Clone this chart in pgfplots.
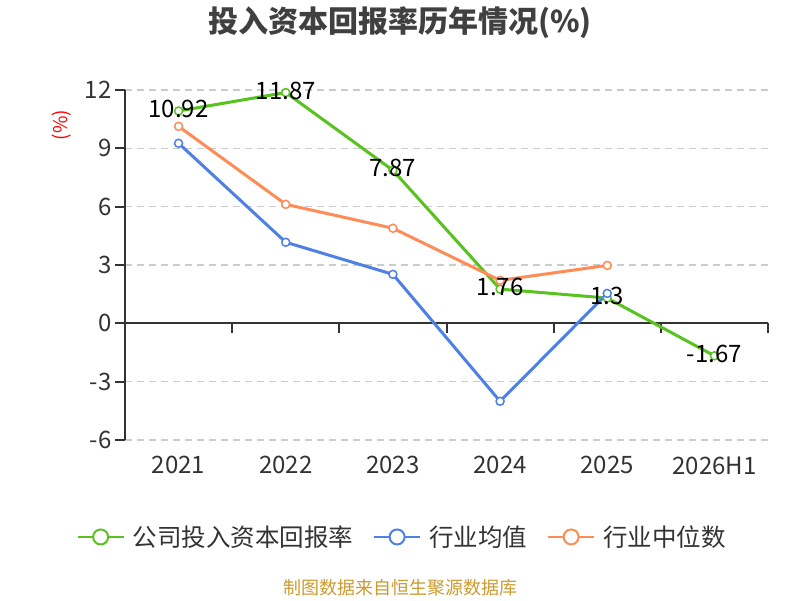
\documentclass[border=0pt]{standalone}
\usepackage{pgfplots}
\pgfplotsset{compat=1.18}
\usepackage{fontspec}
\setmainfont{Noto Sans CJK SC}
\definecolor{cg}{HTML}{58C21E}
\definecolor{cb}{HTML}{4E80E5}
\definecolor{co}{HTML}{FF8C57}
\definecolor{axc}{HTML}{333333}
\definecolor{ttl}{HTML}{404040}
\definecolor{gridc}{HTML}{CCCCCC}
\definecolor{src}{HTML}{CC9A2E}
\begin{document}
\begin{tikzpicture}[x=1pt,y=1pt]
\path[use as bounding box] (0,0) rectangle (800,600);
\node[font=\fontsize{30}{34}\selectfont\bfseries, text=ttl] at (400,577) {投入资本回报率历年情况(\%)};
\node[rotate=90, text=red, font=\fontsize{19}{22}\selectfont] at (62,475) {(\%)};
\node[text=src, font=\fontsize{18}{22}\selectfont] at (400,12) {制图数据来自恒生聚源数据库};
\begin{axis}[
  at={(125pt,160pt)}, anchor=south west,
  scale only axis, width=643pt, height=350pt,
  xmin=-0.5, xmax=5.5, ymin=-6, ymax=12,
  ytick={-6,-3,0,3,6,9,12},
  xtick={0,1,2,3,4,5},
  xticklabels={2021,2022,2023,2024,2025,2026H1},
  axis y line*=left, axis x line*=bottom,
  x axis line style={draw=none},
  y axis line style={axc, line width=2pt, -},
  major x tick style={draw=none},
  major y tick style={axc, line width=2pt},
  tick align=outside, major tick length=10pt,
  ymajorgrids,
  major grid style={gridc, line width=1.5pt, dash pattern=on 7pt off 5pt},
  tick label style={font=\fontsize{24}{28}\selectfont, text=axc},
  xticklabel style={yshift=-3pt},
  /pgf/number format/assume math mode=true,
  clip=false,
  legend style={at={(0.431,-0.277)}, anchor=center, draw=none, fill=none,
    legend columns=3, font=\fontsize{24.5}{28}\selectfont, text=axc,
    /tikz/every odd column/.append style={column sep=6pt},
    /tikz/every even column/.append style={column sep=18pt}},
  legend image code/.code={
    \draw[line width=2pt, mark=none] (-23pt,0) -- (23pt,0);
    \draw[line width=2pt, fill=white] (0,0) circle (7.5pt);
  },
  every axis plot/.append style={line width=3pt, mark=*, mark size=4pt,
    mark options={fill=white, line width=1.5pt}},
]
\pgfplotsinvokeforeach{0.5,1.5,2.5,3.5,4.5,5.5}{
  \draw[axc, line width=2pt] (axis cs:#1,0) -- ++(0pt,-10pt);
}
\draw[axc, line width=2pt] (axis cs:-0.5,0) -- (axis cs:5.5,0);
\addplot[color=cg] coordinates {(0,10.92) (1,11.87) (2,7.87) (3,1.76) (4,1.3) (5,-1.67)};
\addlegendentry{公司投入资本回报率}
\addplot[color=cb] coordinates {(0,9.26) (1,4.17) (2,2.52) (3,-4.01) (4,1.54)};
\addlegendentry{行业均值}
\addplot[color=co] coordinates {(0,10.13) (1,6.12) (2,4.89) (3,2.21) (4,2.98)};
\addlegendentry{行业中位数}
\addplot[forget plot, draw=none, mark=none, nodes near coords, point meta=explicit symbolic,
  nodes near coords style={anchor=center, yshift=2pt, font=\fontsize{24}{28}\selectfont, text=black}]
  coordinates {(0,10.92) [10.92] (1,11.87) [11.87] (2,7.87) [7.87] (3,1.76) [1.76] (4,1.3) [1.3] (5,-1.67) [-1.67]};
\end{axis}
\end{tikzpicture}
\end{document}
